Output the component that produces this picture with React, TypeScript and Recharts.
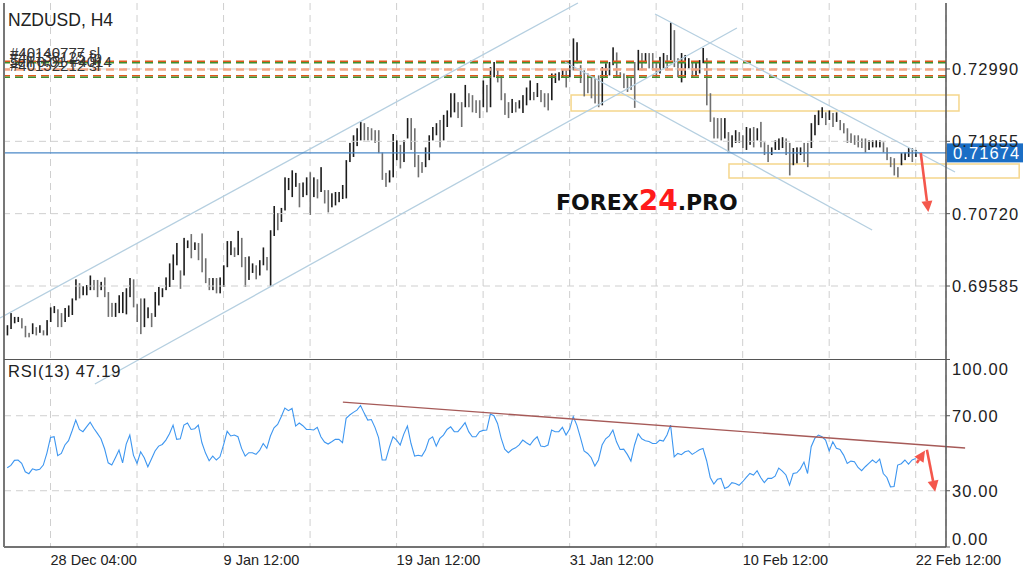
import React from 'react';
import { ComposedChart, Bar, Line, XAxis, YAxis, CartesianGrid, ReferenceLine, ReferenceArea } from 'recharts';

// NZDUSD H4 bars, high / low per bar (bar index = position in the array)
const highs = [
  0.6897, 0.6916, 0.6910, 0.6910, 0.6908, 0.6896, 0.6885, 0.6900, 0.6894, 0.6897,
  0.6889, 0.6905, 0.6925, 0.6927, 0.6922, 0.6916, 0.6924, 0.6928, 0.6939, 0.6969,
  0.6963, 0.6958, 0.6960, 0.6975, 0.6968, 0.6968, 0.6965, 0.6972, 0.6949, 0.6932,
  0.6932, 0.6944, 0.6949, 0.6955, 0.6971, 0.6969, 0.6930, 0.6939, 0.6939, 0.6925,
  0.6916, 0.6949, 0.6957, 0.6955, 0.6972, 0.6994, 0.7008, 0.7026, 0.6983, 0.7034,
  0.7030, 0.7040, 0.7027, 0.7026, 0.7041, 0.7002, 0.6971, 0.6971, 0.6971, 0.6972,
  0.6991, 0.7029, 0.7029, 0.7019, 0.7045, 0.7034, 0.7004, 0.7005, 0.6994, 0.6991,
  0.6999, 0.7019, 0.7004, 0.7046, 0.7084, 0.7073, 0.7081, 0.7129, 0.7128, 0.7140,
  0.7136, 0.7120, 0.7121, 0.7129, 0.7137, 0.7129, 0.7126, 0.7145, 0.7109, 0.7109,
  0.7104, 0.7106, 0.7106, 0.7117, 0.7156, 0.7183, 0.7195, 0.7206, 0.7216, 0.7214,
  0.7208, 0.7206, 0.7203, 0.7203, 0.7168, 0.7136, 0.7140, 0.7197, 0.7187, 0.7180,
  0.7187, 0.7222, 0.7222, 0.7206, 0.7164, 0.7153, 0.7176, 0.7195, 0.7208, 0.7214,
  0.7219, 0.7227, 0.7234, 0.7261, 0.7261, 0.7247, 0.7247, 0.7274, 0.7261, 0.7258,
  0.7250, 0.7250, 0.7281, 0.7274, 0.7302, 0.7310, 0.7300, 0.7289, 0.7261, 0.7247,
  0.7252, 0.7247, 0.7250, 0.7258, 0.7270, 0.7281, 0.7263, 0.7277, 0.7266, 0.7261,
  0.7261, 0.7292, 0.7292, 0.7294, 0.7297, 0.7297, 0.7313, 0.7347, 0.7341, 0.7305,
  0.7297, 0.7292, 0.7289, 0.7285, 0.7289, 0.7302, 0.7308, 0.7310, 0.7333, 0.7325,
  0.7294, 0.7292, 0.7289, 0.7285, 0.7310, 0.7329, 0.7324, 0.7324, 0.7324, 0.7324,
  0.7310, 0.7318, 0.7324, 0.7321, 0.7372, 0.7360, 0.7316, 0.7324, 0.7321, 0.7316,
  0.7310, 0.7310, 0.7313, 0.7332, 0.7316, 0.7261, 0.7223, 0.7222, 0.7222, 0.7222,
  0.7200, 0.7195, 0.7203, 0.7200, 0.7195, 0.7208, 0.7206, 0.7208, 0.7206, 0.7216,
  0.7184, 0.7180, 0.7176, 0.7187, 0.7190, 0.7192, 0.7190, 0.7183, 0.7175, 0.7176,
  0.7176, 0.7183, 0.7183, 0.7214, 0.7227, 0.7234, 0.7239, 0.7231, 0.7234, 0.7230,
  0.7231, 0.7219, 0.7214, 0.7206, 0.7198, 0.7195, 0.7195, 0.7190, 0.7190, 0.7187,
  0.7187, 0.7187, 0.7187, 0.7184, 0.7176, 0.7161, 0.7159, 0.7145, 0.7167, 0.7168,
  0.7175, 0.7175, 0.7172,
];

const lows = [
  0.6881, 0.6891, 0.6900, 0.6902, 0.6892, 0.6878, 0.6878, 0.6883, 0.6881, 0.6885,
  0.6881, 0.6881, 0.6902, 0.6916, 0.6894, 0.6894, 0.6902, 0.6910, 0.6913, 0.6936,
  0.6939, 0.6944, 0.6944, 0.6952, 0.6952, 0.6941, 0.6952, 0.6941, 0.6910, 0.6910,
  0.6910, 0.6916, 0.6916, 0.6914, 0.6941, 0.6925, 0.6902, 0.6883, 0.6894, 0.6908,
  0.6894, 0.6910, 0.6928, 0.6941, 0.6952, 0.6957, 0.6968, 0.6991, 0.6954, 0.6975,
  0.7018, 0.7002, 0.7015, 0.6999, 0.6980, 0.6963, 0.6952, 0.6952, 0.6947, 0.6947,
  0.6957, 0.6988, 0.7007, 0.7004, 0.7007, 0.6988, 0.6957, 0.6968, 0.6979, 0.6969,
  0.6975, 0.6991, 0.6983, 0.6958, 0.7037, 0.7046, 0.7059, 0.7077, 0.7109, 0.7098,
  0.7114, 0.7082, 0.7098, 0.7101, 0.7070, 0.7098, 0.7096, 0.7106, 0.7088, 0.7074,
  0.7082, 0.7085, 0.7090, 0.7095, 0.7096, 0.7153, 0.7161, 0.7178, 0.7187, 0.7187,
  0.7187, 0.7187, 0.7183, 0.7167, 0.7125, 0.7114, 0.7121, 0.7129, 0.7156, 0.7143,
  0.7153, 0.7190, 0.7172, 0.7145, 0.7129, 0.7136, 0.7145, 0.7156, 0.7187, 0.7195,
  0.7176, 0.7187, 0.7208, 0.7223, 0.7231, 0.7222, 0.7208, 0.7239, 0.7239, 0.7231,
  0.7230, 0.7222, 0.7239, 0.7231, 0.7239, 0.7286, 0.7278, 0.7250, 0.7227, 0.7222,
  0.7230, 0.7231, 0.7237, 0.7230, 0.7242, 0.7250, 0.7250, 0.7255, 0.7247, 0.7239,
  0.7234, 0.7250, 0.7277, 0.7281, 0.7285, 0.7270, 0.7286, 0.7297, 0.7308, 0.7277,
  0.7256, 0.7261, 0.7253, 0.7245, 0.7239, 0.7242, 0.7286, 0.7289, 0.7305, 0.7286,
  0.7285, 0.7269, 0.7263, 0.7266, 0.7238, 0.7297, 0.7297, 0.7308, 0.7300, 0.7297,
  0.7286, 0.7292, 0.7300, 0.7297, 0.7313, 0.7302, 0.7286, 0.7278, 0.7286, 0.7300,
  0.7286, 0.7289, 0.7292, 0.7308, 0.7242, 0.7216, 0.7190, 0.7190, 0.7187, 0.7190,
  0.7168, 0.7176, 0.7183, 0.7183, 0.7175, 0.7172, 0.7180, 0.7176, 0.7187, 0.7176,
  0.7164, 0.7153, 0.7164, 0.7172, 0.7172, 0.7175, 0.7164, 0.7132, 0.7148, 0.7151,
  0.7164, 0.7153, 0.7145, 0.7175, 0.7195, 0.7211, 0.7222, 0.7211, 0.7219, 0.7208,
  0.7216, 0.7203, 0.7198, 0.7183, 0.7183, 0.7180, 0.7176, 0.7175, 0.7168, 0.7172,
  0.7176, 0.7176, 0.7176, 0.7168, 0.7156, 0.7145, 0.7132, 0.7129, 0.7148, 0.7156,
  0.7161, 0.7153, 0.7161,
];

// RSI(13) per bar
const rsiValues = [
  42.3, 43.5, 46.2, 46.4, 44.6, 40.1, 39.1, 41.7, 41.0, 41.4,
  43.7, 50.1, 58.4, 58.8, 48.7, 49.9, 54.4, 56.7, 62.0, 67.7,
  62.7, 61.5, 64.1, 66.6, 63.3, 60.6, 57.7, 52.4, 44.9, 43.7,
  47.6, 51.7, 44.9, 54.9, 59.7, 49.0, 44.6, 50.8, 47.6, 42.8,
  46.9, 51.2, 53.8, 54.7, 57.0, 60.4, 65.0, 57.4, 57.7, 65.0,
  66.1, 62.7, 63.1, 65.0, 55.6, 50.1, 46.0, 48.5, 46.4, 48.1,
  54.5, 61.7, 59.2, 59.7, 58.8, 52.6, 48.5, 50.3, 50.3, 49.4,
  51.5, 55.2, 52.6, 59.2, 63.6, 65.4, 69.5, 74.1, 72.7, 73.9,
  64.5, 66.1, 64.7, 62.7, 62.7, 62.4, 63.8, 58.8, 56.0, 54.9,
  56.1, 57.4, 57.4, 55.6, 68.6, 70.4, 71.8, 73.0, 75.5, 71.4,
  67.7, 68.0, 63.8, 58.3, 46.4, 46.4, 53.1, 58.8, 57.0, 54.4,
  60.2, 64.5, 55.2, 48.5, 48.9, 48.5, 51.7, 57.4, 58.8, 53.8,
  57.9, 59.7, 62.7, 64.1, 61.5, 61.5, 63.8, 66.3, 61.5, 58.8,
  58.8, 61.5, 62.2, 62.4, 70.9, 70.0, 65.9, 58.1, 52.2, 50.3,
  52.0, 52.9, 54.5, 57.0, 55.6, 54.4, 57.0, 58.8, 53.8, 53.5,
  54.4, 62.4, 61.5, 61.5, 63.8, 59.7, 62.9, 69.5, 65.0, 58.3,
  51.2, 49.9, 47.6, 43.2, 46.4, 54.4, 57.7, 59.3, 62.4, 56.1,
  52.0, 52.2, 49.4, 45.8, 54.4, 60.4, 57.7, 56.7, 56.3, 55.2,
  55.2, 57.0, 56.5, 59.7, 65.0, 48.1, 49.9, 49.2, 50.8, 51.3,
  49.4, 50.6, 51.9, 52.6, 46.0, 37.1, 33.6, 36.1, 36.6, 31.2,
  32.1, 34.3, 33.9, 32.9, 34.8, 37.1, 39.2, 38.4, 40.7, 37.1,
  34.3, 36.6, 36.6, 37.8, 42.1, 40.5, 38.4, 33.0, 39.2, 39.6,
  41.7, 45.3, 39.2, 53.5, 57.9, 59.7, 58.8, 57.0, 51.2, 56.1,
  52.6, 52.0, 49.0, 44.6, 45.8, 45.5, 42.4, 40.7, 42.8, 44.6,
  46.4, 44.9, 46.9, 39.2, 37.1, 32.1, 32.3, 43.7, 44.4, 46.4,
  44.2, 46.4, 47.2,
];

const gridTicks = [12, 36, 60, 84, 108, 132, 156, 180, 204, 228, 252];
const dateTickIdx = [12, 60, 108, 156, 204, 252];
const dateTickLabels = ['28 Dec 04:00', '9 Jan 12:00', '19 Jan 12:00', '31 Jan 12:00', '10 Feb 12:00', '22 Feb 12:00'];
const priceTicks = [0.69585, 0.7072, 0.71855, 0.7299];
const rsiTicks = [0, 30, 70, 100];
const rsiGrid = [30, 70];
const lastPrice = 0.71674;
const lastRsi = 47.19;

// pending order levels (stop loss / take profit)
const orderPrices = [0.7310, 0.72982, 0.72872];
const orderKinds = ['sl', 'tp', 'sl'];
const orderLabels = ['#40140777 sl', '#40138125 tp', 'sell 0.01 #4014', '#40152212 sl'];

// drawn objects: [bar index, price]
const channelLines = [
  [[-2.0, 0.69083], [158.3, 0.74026]],
  [[24.3, 0.68047], [202.4, 0.73633]],
  [[179.7, 0.73853], [262.9, 0.71374]],
  [[154.7, 0.731], [239.9, 0.70464]],
];
const zoneX = [[156.4, 264.0], [200.2, 280.7]];
const zonePrice = [[0.72331, 0.72582], [0.7128, 0.71499]];
const rsiTrend = [[93.1, 77.3], [265.7, 52.8]];
const priceArrow = [[253.4, 0.71672], [255.5, 0.70746]];
const rsiArrows = [
  [[252.3, 44.8], [254.6, 51.4]],
  [[255.1, 51.9], [257.4, 29.5]],
];

const data = highs.map((h, i) => ({
  i,
  range: [lows[i], h],
  rsi: rsiValues[i],
  up: i === 0 || h + lows[i] >= highs[i - 1] + lows[i - 1],
}));

const FONT = '"Liberation Sans", Arial, sans-serif';

const BarShape = (props: any) => {
  const { x, y, width, height, payload } = props;
  const cx = x + width / 2;
  return (
    <rect
      x={cx - 0.8}
      y={Math.min(y, y + height)}
      width={1.6}
      height={Math.max(Math.abs(height), 1)}
      fill={payload.up ? '#1c1c1c' : '#707070'}
    />
  );
};

const Arrow = (props: any) => {
  const { x1, y1, x2, y2 } = props;
  const dx = x2 - x1;
  const dy = y2 - y1;
  const len = Math.hypot(dx, dy) || 1;
  const ux = dx / len;
  const uy = dy / len;
  const hl = 11;
  const hw = 5.5;
  const bx = x2 - ux * hl;
  const by = y2 - uy * hl;
  return (
    <g>
      <line x1={x1} y1={y1} x2={bx} y2={by} stroke="#f4574c" strokeWidth={2.6} />
      <polygon
        points={`${x2},${y2} ${bx - uy * hw},${by + ux * hw} ${bx + uy * hw},${by - ux * hw}`}
        fill="#f4574c"
      />
    </g>
  );
};

const StopLine = (props: any) => {
  const { x1, y1, x2 } = props;
  return (
    <g>
      <line x1={x1} y1={y1 - 0.8} x2={x2} y2={y1 - 0.8} stroke="#e0581c" strokeWidth={1.6} strokeDasharray="8 5" />
      <line x1={x1} y1={y1 + 0.8} x2={x2} y2={y1 + 0.8} stroke="#3f8f2f" strokeWidth={1.6} strokeDasharray="8 5" />
    </g>
  );
};

const TakeLine = (props: any) => {
  const { x1, y1, x2 } = props;
  return (
    <line x1={x1} y1={y1} x2={x2} y2={y1} stroke="#f4a584" strokeWidth={2.6} strokeDasharray="8 5" />
  );
};

const PriceTag = ({ viewBox }: any) => {
  const right = viewBox.x + viewBox.width;
  const y = viewBox.y;
  return (
    <g>
      <rect x={right + 1} y={y - 9.5} width={76} height={19} fill="#1b6ec5" />
      <text x={right + 7} y={y + 6} fill="#fff" fontSize={16.5} letterSpacing={1.1} fontFamily={FONT}>
        {lastPrice.toFixed(5)}
      </text>
    </g>
  );
};

const PriceTick = ({ x, y, payload }: any) => (
  <text x={x} y={y} dy={6} fontSize={16.5} letterSpacing={1.1} fill="#222" fontFamily={FONT}>
    {Number(payload.value).toFixed(5)}
  </text>
);

// RSI scale labels sit on the same right edge as the price scale
const RsiTickLabel = ({ viewBox, value }: any) => {
  const right = viewBox.x + viewBox.width;
  const y = viewBox.y;
  const dy = value === 100 ? 15.5 : value === 0 ? -2 : 6;
  return (
    <g>
      <line x1={right} y1={y} x2={right + 4} y2={y} stroke="#555" />
      <text x={right + 6} y={y + dy} fontSize={16.5} letterSpacing={1.1} fill="#222" fontFamily={FONT}>
        {Number(value).toFixed(2)}
      </text>
    </g>
  );
};

const DateTick = ({ x, y, payload }: any) => {
  const k = dateTickIdx.indexOf(payload.value);
  if (k < 0) return <g />;
  return (
    <text x={x} y={y} dy={18} fontSize={14.5} fill="#222" fontFamily={FONT}>
      {dateTickLabels[k]}
    </text>
  );
};

export default function App() {
  return (
    <div style={{ position: 'absolute', left: 0, top: 0, width: 1024, height: 577, background: '#fff', overflow: 'hidden', fontFamily: FONT }}>
      <ComposedChart width={1024} height={577} data={data} margin={{ top: 3, right: 0, bottom: 0, left: 4 }}>
        <CartesianGrid yAxisId="p" vertical horizontal={false} stroke="#cfcfcf" strokeDasharray="7 5" />
        <XAxis
          type="number"
          dataKey="i"
          domain={[-0.9, 260.4]}
          allowDataOverflow
          ticks={gridTicks}
          interval={0}
          height={30}
          tickSize={0}
          tickMargin={0}
          tickLine={false}
          axisLine={{ stroke: '#444', strokeWidth: 1.5 }}
          tick={<DateTick />}
        />
        <YAxis
          yAxisId="p"
          orientation="right"
          type="number"
          domain={[0.654897, 0.740256]}
          allowDataOverflow
          ticks={priceTicks}
          interval={0}
          width={78}
          tickSize={4}
          tickMargin={2}
          axisLine={{ stroke: '#555', strokeWidth: 1.5 }}
          tickLine={{ stroke: '#555' }}
          tick={<PriceTick />}
        />
        <YAxis yAxisId="r" type="number" domain={[0, 290.13]} allowDataOverflow hide />

        {priceTicks.map((p) => (
          <ReferenceLine key={'pg' + p} yAxisId="p" y={p} stroke="#cfcfcf" strokeDasharray="7 5" />
        ))}
        {rsiTicks.map((v) => (
          <ReferenceLine
            key={'rg' + v}
            yAxisId="r"
            y={v}
            stroke={rsiGrid.includes(v) ? '#cfcfcf' : 'none'}
            strokeDasharray="7 5"
            ifOverflow="visible"
            label={<RsiTickLabel value={v} />}
          />
        ))}

        {zoneX.map((xs, k) => (
          <ReferenceArea
            key={'z' + k}
            yAxisId="p"
            x1={xs[0]}
            x2={xs[1]}
            y1={zonePrice[k][0]}
            y2={zonePrice[k][1]}
            fill="none"
            stroke="#f5d68c"
            strokeWidth={1.5}
            ifOverflow="visible"
          />
        ))}

        {orderPrices.map((p, k) => (
          <ReferenceLine
            key={'o' + k}
            yAxisId="p"
            y={p}
            shape={orderKinds[k] === 'sl' ? StopLine : TakeLine}
          />
        ))}

        {channelLines.map((seg, k) => (
          <ReferenceLine
            key={'c' + k}
            yAxisId="p"
            segment={[{ x: seg[0][0], y: seg[0][1] }, { x: seg[1][0], y: seg[1][1] }]}
            stroke="#b5cfe0"
            strokeWidth={1.3}
            ifOverflow="visible"
          />
        ))}

        <ReferenceLine yAxisId="p" y={lastPrice} stroke="#4a88c7" strokeWidth={1.2} label={<PriceTag />} />

        <Bar yAxisId="p" dataKey="range" barSize={2} shape={<BarShape />} isAnimationActive={false} />
        <Line
          yAxisId="r"
          dataKey="rsi"
          type="linear"
          stroke="#3d96f0"
          strokeWidth={1.1}
          dot={false}
          isAnimationActive={false}
        />

        <ReferenceLine
          yAxisId="r"
          segment={[{ x: rsiTrend[0][0], y: rsiTrend[0][1] }, { x: rsiTrend[1][0], y: rsiTrend[1][1] }]}
          stroke="#a65a58"
          strokeWidth={1.3}
          ifOverflow="visible"
        />
        <ReferenceLine
          yAxisId="p"
          segment={[{ x: priceArrow[0][0], y: priceArrow[0][1] }, { x: priceArrow[1][0], y: priceArrow[1][1] }]}
          shape={Arrow}
          ifOverflow="visible"
        />
        {rsiArrows.map((seg, k) => (
          <ReferenceLine
            key={'ra' + k}
            yAxisId="r"
            segment={[{ x: seg[0][0], y: seg[0][1] }, { x: seg[1][0], y: seg[1][1] }]}
            shape={Arrow}
            ifOverflow="visible"
          />
        ))}
      </ComposedChart>

      {/* panel frame: left edge and the price / RSI divider */}
      <div style={{ position: 'absolute', left: 3, top: 3, width: 1.5, height: 544, background: '#777' }} />
      <div style={{ position: 'absolute', left: 4, top: 358.5, width: 942, height: 1.2, background: '#555' }} />

      <svg width={1024} height={577} style={{ position: 'absolute', left: 0, top: 0, pointerEvents: 'none' }}>
        <text x={8} y={26} fontSize={17.5} fill="#222" fontFamily={FONT}>NZDUSD, H4</text>
        {orderLabels.map((t, k) => (
          <text key={t} x={10} y={58 + k * 4.3} fontSize={15} fill="#333" fontFamily={FONT}>{t}</text>
        ))}
        <text x={8} y={377} fontSize={16.5} letterSpacing={0.8} fill="#222" fontFamily={FONT}>
          {`RSI(13) ${lastRsi.toFixed(2)}`}
        </text>
        <text x={556} y={210} fontSize={22} fontWeight={900} fill="#111" fontFamily='"DejaVu Sans", sans-serif'>
          FOREX
          <tspan fill="#ff1b1b" fontSize={28}>24</tspan>
          <tspan>.PRO</tspan>
        </text>
      </svg>
    </div>
  );
}
